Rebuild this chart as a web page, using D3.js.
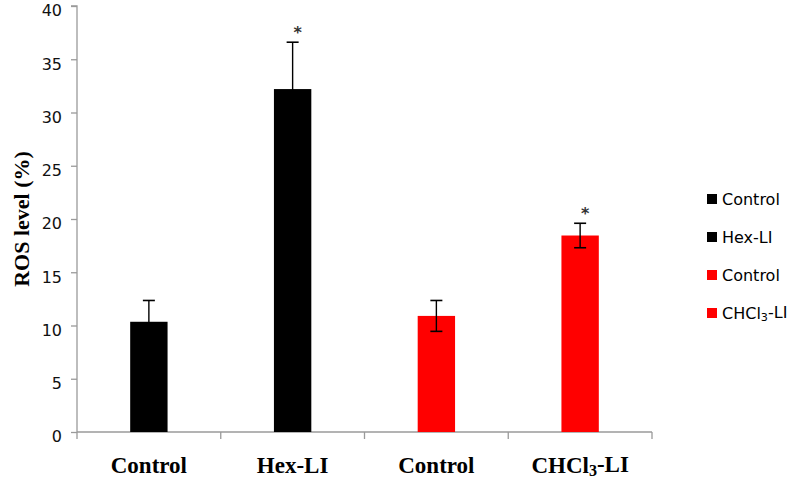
<!DOCTYPE html>
<html><head><meta charset="utf-8">
<script src="https://cdn.jsdelivr.net/npm/d3@7"></script>
<style>body{margin:0;background:#fff}svg{display:block}</style>
</head><body>
<svg id="c" width="788" height="479"></svg>
<script>
const categories = ["Control", "Hex-LI", "Control", "CHCl3-LI"];
const values = [10.35, 32.2, 10.9, 18.45];
const errors = [2.0, 4.4, 1.45, 1.15];
const colors = ["#000000", "#000000", "#ff0000", "#ff0000"];
const significant = [false, true, false, true];
const legendLabels = ["Control", "Hex-LI", "Control", "CHCl3-LI"];
const yTicks = [0, 5, 10, 15, 20, 25, 30, 35, 40];

const svg = d3.select("#c");
const x0 = 77, x1 = 652, yTop = 6, yBot = 432;
const x = d3.scaleBand().domain(d3.range(categories.length)).range([x0, x1]).paddingInner(0.74).paddingOuter(0.37);
const y = d3.scaleLinear().domain([0, 40]).range([yBot, yTop]);

function sub3(sel, label) {
  const m = label.match(/^(.*Cl)3(.*)$/);
  if (m) {
    sel.append("tspan").text(m[1]);
    sel.append("tspan").attr("font-size", "0.7em").attr("dy", "0.16em").text("3");
    sel.append("tspan").attr("dy", "-0.16em").text(m[2]);
  } else sel.text(label);
}

// Y axis
const yAxis = svg.append("g").attr("transform", `translate(${x0},0)`)
  .call(d3.axisLeft(y).tickValues(yTicks).tickSize(6).tickPadding(9));
yAxis.select(".domain").attr("stroke", "#9a9a9a").attr("stroke-width", 1.3).attr("d", `M-6,${yTop}H0V${yBot}`);
yAxis.selectAll(".tick line").attr("stroke", "#9a9a9a").attr("stroke-width", 1.3);
yAxis.selectAll(".tick text").attr("font-family", "DejaVu Sans, Verdana, sans-serif").attr("font-size", 16)
  .attr("fill", "#111").attr("dy", "0.62em");

// X axis
const xs = d3.scaleLinear().domain([0, categories.length]).range([x0, x1]);
const xg = svg.append("g").attr("transform", `translate(0,${yBot})`);
xg.append("line").attr("x1", x0).attr("x2", x1).attr("y1", 0).attr("y2", 0).attr("stroke", "#9a9a9a").attr("stroke-width", 1.3);
xg.selectAll("line.t").data(d3.range(categories.length + 1)).join("line").attr("class", "t")
  .attr("x1", d => xs(d)).attr("x2", d => xs(d)).attr("y1", 0).attr("y2", 7)
  .attr("stroke", "#9a9a9a").attr("stroke-width", 1.3);

xg.selectAll("text.cat").data(categories).join("text").attr("class", "cat")
  .attr("x", (d, i) => x(i) + x.bandwidth() / 2).attr("y", 41)
  .attr("text-anchor", "middle").attr("font-family", "Liberation Serif, Times New Roman, serif")
  .attr("font-weight", "bold").attr("font-size", 23).attr("fill", "#000")
  .each(function (d) { sub3(d3.select(this), d); });

// Bars
svg.selectAll("rect.bar").data(values).join("rect").attr("class", "bar")
  .attr("x", (d, i) => x(i)).attr("width", x.bandwidth())
  .attr("y", d => y(d)).attr("height", d => yBot - y(d))
  .attr("fill", (d, i) => colors[i]);

// Error bars
const eb = svg.selectAll("g.err").data(values).join("g").attr("class", "err")
  .attr("transform", (d, i) => `translate(${x(i) + x.bandwidth() / 2},0)`);
eb.append("line").attr("y1", (d, i) => y(d + errors[i])).attr("y2", (d, i) => y(d - errors[i]))
  .attr("stroke", "#000").attr("stroke-width", 1.4);
eb.append("line").attr("x1", -6).attr("x2", 6).attr("y1", (d, i) => y(d + errors[i])).attr("y2", (d, i) => y(d + errors[i]))
  .attr("stroke", "#000").attr("stroke-width", 1.6);
eb.append("line").attr("x1", -6).attr("x2", 6).attr("y1", (d, i) => y(d - errors[i])).attr("y2", (d, i) => y(d - errors[i]))
  .attr("stroke", "#000").attr("stroke-width", 1.6);

// Significance stars
svg.selectAll("text.star").data(values.map((v, i) => ({ v, i })).filter(d => significant[d.i])).join("text")
  .attr("class", "star")
  .attr("x", d => x(d.i) + x.bandwidth() / 2 + 5).attr("y", d => y(d.v + errors[d.i]) - 4)
  .attr("text-anchor", "middle").attr("font-family", "DejaVu Sans, sans-serif").attr("font-size", 16)
  .attr("font-weight", "bold").attr("fill", "#333").text("*");

// Y title
svg.append("text").attr("transform", "translate(29,219) rotate(-90)")
  .attr("text-anchor", "middle").attr("font-family", "Liberation Serif, Times New Roman, serif")
  .attr("font-weight", "bold").attr("font-size", 22).attr("fill", "#000").text("ROS level (%)");

// Legend
const lg = svg.selectAll("g.leg").data(legendLabels).join("g").attr("class", "leg")
  .attr("transform", (d, i) => `translate(707,${199 + i * 38})`);
lg.append("rect").attr("x", 0).attr("y", -5).attr("width", 10).attr("height", 10).attr("fill", (d, i) => colors[i]);
lg.append("text").attr("x", 15).attr("y", 6).attr("font-family", "DejaVu Sans, Verdana, sans-serif")
  .attr("font-size", 16).attr("fill", "#000").each(function (d) { sub3(d3.select(this), d); });
</script>
</body></html>
